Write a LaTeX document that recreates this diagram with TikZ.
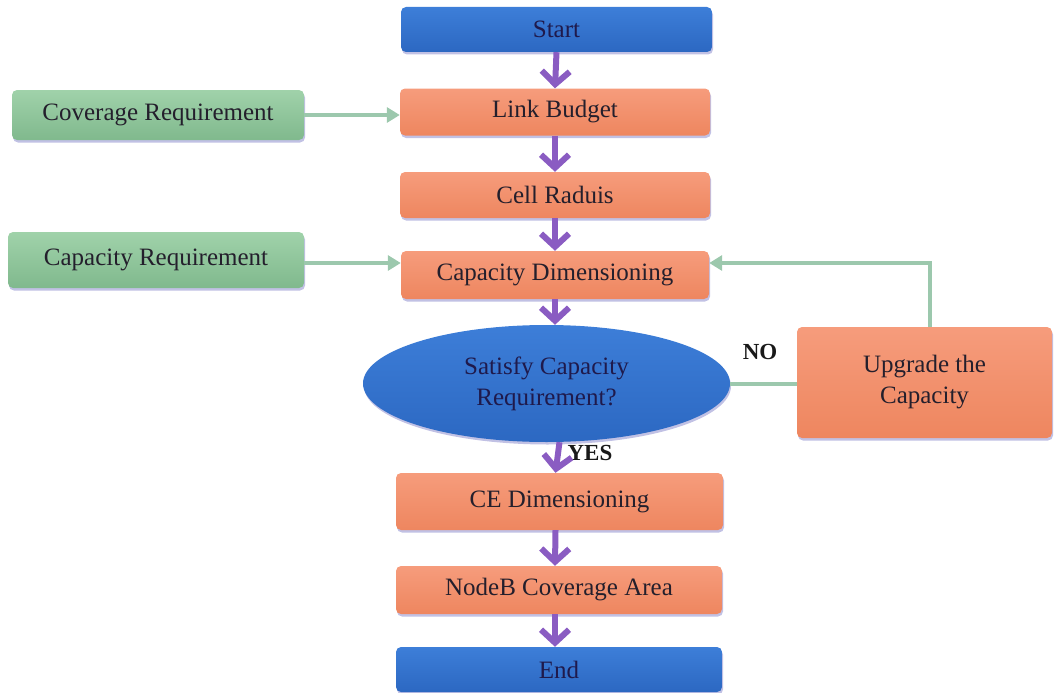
\documentclass[tikz,border=0pt]{standalone}
\usepackage{fontspec}
\setmainfont{Liberation Serif}
\newfontfamily\boxserif{Liberation Serif}
\usetikzlibrary{arrows.meta,shapes.geometric,shadows}

\definecolor{txtdark}{HTML}{241F2C}
\definecolor{orangetop}{HTML}{F69C7C}
\definecolor{orangebot}{HTML}{EE865F}
\definecolor{bluetop}{HTML}{3D7ED8}
\definecolor{bluebot}{HTML}{2C68C2}
\definecolor{greentop}{HTML}{A0D2AA}
\definecolor{greenbot}{HTML}{80B98D}
\definecolor{flowpurple}{HTML}{8A5CC2}
\definecolor{linkgreen}{HTML}{9CC8AD}

\begin{document}
\begin{tikzpicture}[x=1pt,y=-1pt,
  boxbase/.style={rectangle, rounded corners=5pt, inner sep=0pt, text=txtdark,
    font=\boxserif\fontsize{25}{31}\selectfont, align=center,
    drop shadow={shadow xshift=1pt, shadow yshift=-2.5pt, fill=gray!60!blue, opacity=0.35}},
  orangebox/.style={boxbase, top color=orangetop, bottom color=orangebot},
  bluebox/.style={boxbase, top color=bluetop, bottom color=bluebot, text=txtdark!85!blue},
  greenbox/.style={boxbase, top color=greentop, bottom color=greenbot},
  decision/.style={ellipse, inner sep=0pt, top color=bluetop, bottom color=bluebot,
    text=txtdark!85!blue, font=\boxserif\fontsize{25}{31}\selectfont,
    drop shadow={shadow xshift=1pt, shadow yshift=-2.5pt, fill=gray!60!blue, opacity=0.35}},
  flow/.style={draw=flowpurple, line width=6pt,
    -{Straight Barb[length=13pt, width=28pt, line width=6pt]}},
  sidelink/.style={draw=linkgreen, line width=4pt},
  sidearrow/.style={sidelink, -{Triangle[length=13pt, width=15pt]}},
  answer/.style={font=\boxserif\fontsize{23}{26}\selectfont\bfseries, text=black!90}
]
\useasboundingbox (0,0) rectangle (1055,693);

% main column
\node[bluebox,   minimum width=311pt, minimum height=45pt] (start)  at (556.5,29.5) {Start};
\node[orangebox, minimum width=310pt, minimum height=47pt] (link)   at (555,112)   {Link Budget};
\node[orangebox, minimum width=310pt, minimum height=46pt] (cell)   at (555,195)   {Cell Raduis};
\node[orangebox, minimum width=308pt, minimum height=48pt] (capdim) at (555,275)   {Capacity Dimensioning};
\node[decision,  minimum width=367pt, minimum height=117pt] (sat)   at (546.5,383.5)
  {\raisebox{9pt}{\begin{tabular}{@{}c@{}}Satisfy Capacity\\Requirement?\end{tabular}}};
\node[orangebox, minimum width=327pt, minimum height=57pt] (ce)     at (559.5,501.5) {CE Dimensioning};
\node[orangebox, minimum width=326pt, minimum height=48pt] (nodeb)  at (559,590)   {NodeB Coverage Area};
\node[bluebox,   minimum width=326pt, minimum height=45pt] (end)    at (559,669.5) {End};

% side inputs
\node[greenbox, minimum width=292pt, minimum height=50pt] (cov)    at (158,115) {Coverage Requirement};
\node[greenbox, minimum width=296pt, minimum height=56pt] (capreq) at (156,260) {Capacity Requirement};

% loop-back box
\node[orangebox, minimum width=255pt, minimum height=111pt] (up) at (924.5,382.5) {Upgrade the\\Capacity};

% answers
\node[answer] (yes) at (590,453) {YES};
\node[answer] (no)  at (760,352) {NO};

% main flow
\draw[flow] (start.south) -- (link.north);
\draw[flow] (link.south) -- (cell.north);
\draw[flow] (cell.south) -- (capdim.north);
\draw[flow] (capdim.south) -- (capdim.south |- sat.north);
\draw[flow] (ce.north |- sat.south) -- ([xshift=-4pt]ce.north);
\draw[flow] ([xshift=-4pt]ce.south) -- ([xshift=-4pt]nodeb.north);
\draw[flow] ([xshift=-4pt]nodeb.south) -- ([xshift=-4pt]end.north);

% side connectors
\draw[sidearrow] (cov.east) -- (cov.east -| link.west);
\draw[sidearrow] ([yshift=-3pt]capreq.east) -- ([yshift=-3pt]capreq.east -| capdim.west);
\draw[sidelink] (sat.east) -- (sat.east -| up.west);
\draw[sidearrow] ([xshift=5pt]up.north) |- ([yshift=12pt]capdim.east);
\end{tikzpicture}
\end{document}
